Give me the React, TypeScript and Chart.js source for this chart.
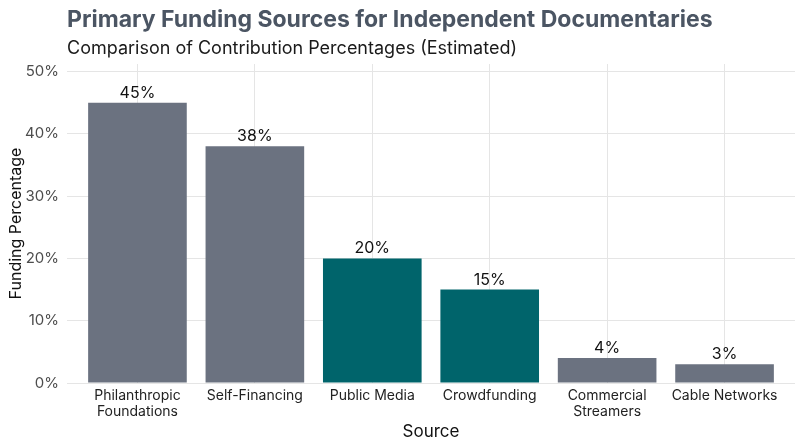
import { useEffect, useRef } from "react";
import Chart from "chart.js/auto";

const categories = [
  ["Philanthropic", "Foundations"],
  ["Self-Financing"],
  ["Public Media"],
  ["Crowdfunding"],
  ["Commercial", "Streamers"],
  ["Cable Networks"],
];
const shares = [45, 38, 20, 15, 4, 3];
const highlighted = [false, false, true, true, false, false];
const yTicks = [0, 10, 20, 30, 40, 50];

const GREY = "#6b7280";
const TEAL = "#00646b";
const FONT = "Inter, 'Noto Sans', sans-serif";

export default function App() {
  const chartRef = useRef<HTMLCanvasElement>(null);

  useEffect(() => {
    document.body.style.margin = "0";
    if (!chartRef.current) return;

    // title + subtitle drawn from the plot's left edge, like ggplot
    const headings = {
      id: "headings",
      afterDraw(chart: any) {
        const { ctx, chartArea } = chart;
        ctx.save();
        ctx.textAlign = "left";
        ctx.textBaseline = "alphabetic";
        ctx.fillStyle = "#4b5563";
        ctx.font = `bold 23px ${FONT}`;
        ctx.fillText("Primary Funding Sources for Independent Documentaries", chartArea.left, 27);
        ctx.fillStyle = "#1a1a1a";
        ctx.font = `18px ${FONT}`;
        ctx.fillText("Comparison of Contribution Percentages (Estimated)", chartArea.left, 54);
        ctx.restore();
      },
    };

    const barLabels = {
      id: "barLabels",
      afterDatasetsDraw(chart: any) {
        const { ctx } = chart;
        const meta = chart.getDatasetMeta(0);
        ctx.save();
        ctx.fillStyle = "#111111";
        ctx.font = `16px ${FONT}`;
        ctx.textAlign = "center";
        ctx.textBaseline = "alphabetic";
        meta.data.forEach((bar: any, i: number) => {
          ctx.fillText(shares[i] + "%", bar.x, bar.y - 5);
        });
        ctx.restore();
      },
    };

    const chart = new Chart(chartRef.current, {
      type: "bar",
      data: {
        datasets: [
          {
            data: shares.map((v, i) => ({ x: i + 1, y: v })),
            backgroundColor: highlighted.map((h) => (h ? TEAL : GREY)),
            barPercentage: 0.84,
            categoryPercentage: 1,
          },
        ],
      },
      options: {
        responsive: true,
        maintainAspectRatio: false,
        animation: false,
        layout: { padding: { top: 64, right: 5, left: 0, bottom: 0 } },
        plugins: {
          legend: { display: false },
          tooltip: { enabled: false },
        },
        scales: {
          x: {
            type: "linear",
            min: 0.4,
            max: 6.6,
            offset: false,
            afterBuildTicks: (scale: any) => {
              scale.ticks = categories.map((_, i) => ({ value: i + 1 }));
            },
            afterFit: (scale: any) => {
              scale.height = 64;
            },
            grid: { color: "#e5e5e5", drawTicks: false, offset: false },
            border: { display: false },
            ticks: {
              padding: 4,
              autoSkip: false,
              maxRotation: 0,
              color: "#222222",
              font: { family: FONT, size: 14, lineHeight: 1.2 },
              callback: (v: any) => categories[Math.round(v) - 1] ?? "",
            },
            title: {
              display: true,
              text: "Source",
              color: "#111111",
              font: { family: FONT, size: 17 },
              padding: { top: 0, bottom: 5 },
            },
          },
          y: {
            min: 0,
            max: 51.2,
            afterBuildTicks: (scale: any) => {
              scale.ticks = yTicks.map((v) => ({ value: v }));
            },
            afterFit: (scale: any) => {
              scale.width = 67;
            },
            grid: { color: "#e5e5e5", drawTicks: false },
            border: { display: false },
            ticks: {
              padding: 8,
              color: "#4d4d4d",
              font: { family: FONT, size: 15 },
              callback: (v: any) => v + "%",
            },
            title: {
              display: true,
              text: "Funding Percentage",
              color: "#111111",
              font: { family: FONT, size: 16 },
              padding: { top: 7, bottom: 2 },
            },
          },
        },
      },
      plugins: [headings, barLabels],
    });

    return () => chart.destroy();
  }, []);

  return (
    <div style={{ width: 800, height: 447, position: "relative", background: "#ffffff" }}>
      <canvas ref={chartRef} role="img" aria-label="Bar chart of primary funding sources for independent documentaries." />
    </div>
  );
}
